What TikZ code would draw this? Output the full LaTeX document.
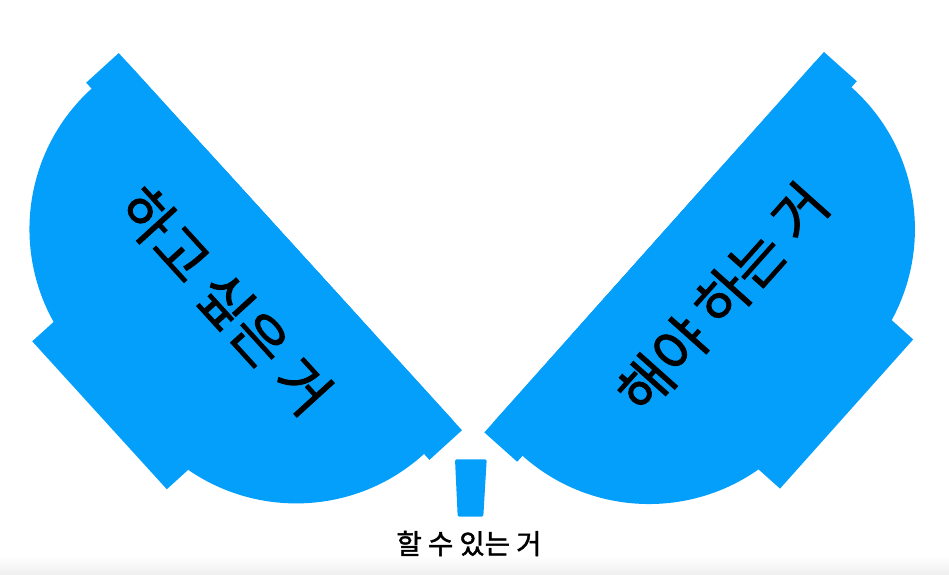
\documentclass[tikz,border=0pt]{standalone}
\usepackage{fontspec}
\newfontfamily\kr[FakeBold=1.6]{Noto Sans CJK KR}
\definecolor{sky}{RGB}{4,159,251}
\tikzset{
  blob/.style={fill=sky},
  bigtext/.style={font=\kr\fontsize{56}{60}\selectfont, text=black, inner sep=0pt, transform shape},
  smalltext/.style={font=\kr\fontsize{27.5}{30}\selectfont, text=black, inner sep=0pt},
}
\begin{document}
\begin{tikzpicture}[x=1pt,y=-1pt]
\useasboundingbox (0,0) rectangle (949,574);
\shade[top color=white, bottom color=black!6] (0,556) rectangle (949,574);
% left shape
\begin{scope}[shift={(290.35,241.65)}, rotate=-47.7]
  \begin{scope}
    \clip (-300,0) rectangle (300,300);
    \fill[blob] (-57,44) circle[radius=190];
    \fill[blob] (57,44) circle[radius=190];
  \end{scope}
  \fill[blob] (-255,0) rectangle (255,44);
  \fill[blob] (-100,0) rectangle (100,258);
  \node[bigtext] (want) at (0,88) {하고 싶은 거};
\end{scope}
% right shape
\begin{scope}[shift={(654.15,242.2)}, rotate=48.25]
  \begin{scope}
    \clip (-300,0) rectangle (300,300);
    \fill[blob] (-57,44) circle[radius=190];
    \fill[blob] (57,44) circle[radius=190];
  \end{scope}
  \fill[blob] (-255,0) rectangle (255,44);
  \fill[blob] (-100,0) rectangle (100,258);
  \node[bigtext] (must) at (4,88) {해야 하는 거};
\end{scope}
% cup
\fill[blob, rounded corners=1.5pt] (455,459.3) -- (486.7,459.3) -- (483.3,516.7) -- (457.7,516.7) -- cycle;
\node[smalltext] (can) at (469,543.5) {할 수 있는 거};
\end{tikzpicture}
\end{document}
